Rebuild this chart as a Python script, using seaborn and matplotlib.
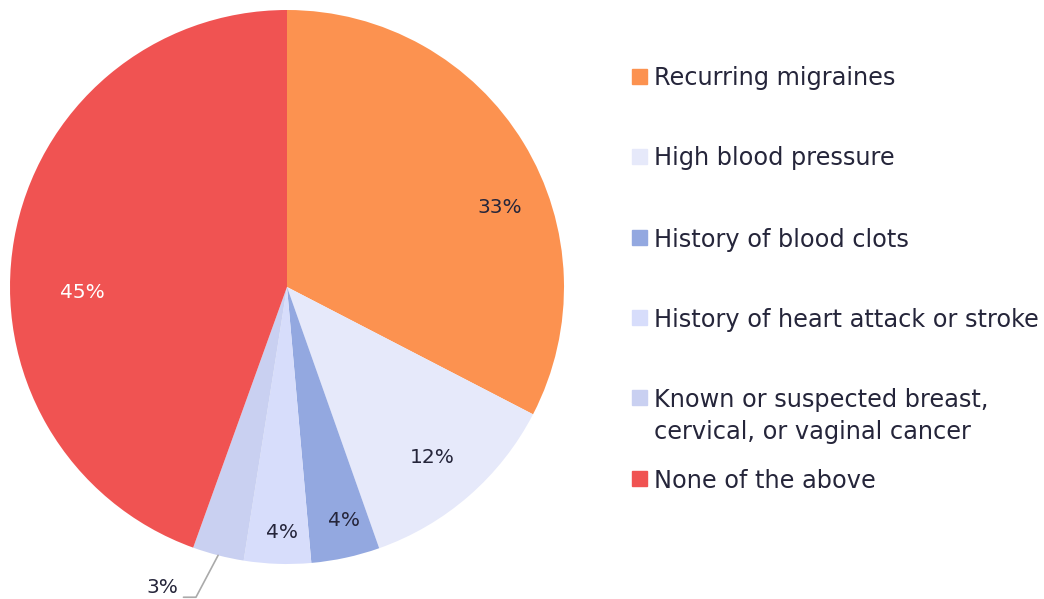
import numpy as np
import matplotlib
matplotlib.use("Agg")
import matplotlib.pyplot as plt
from matplotlib.patches import Rectangle
import seaborn as sns

# =========================================
# DADOS
# =========================================

categorias = [
    "Recurring migraines",
    "High blood pressure",
    "History of blood clots",
    "History of heart attack or stroke",
    "Known or suspected breast,\ncervical, or vaginal cancer",
    "None of the above",
]
valores = [32.6, 12.0, 4.0, 3.9, 3.0, 44.5]
rotulos = ["33%", "12%", "4%", "4%", "3%", "45%"]
cores = ["#FC9250", "#E6E9FA", "#93A8E0", "#D7DDFB", "#C9D0F1", "#F05352"]

# posição do rotulo: distancia (fração do raio) e fração do ângulo da fatia
dist_rotulos = [0.82, 0.81, 0.866, 0.885, None, 0.74]
frac_rotulos = [0.593, 0.516, 0.40, 0.44, 0.5, 0.428]
cor_rotulos = ["#25253a", "#25253a", "#25253a", "#25253a", "#25253a", "white"]

texto_cor = "#25253a"

sns.set_theme(style="white")
plt.rcParams["font.family"] = ["DejaVu Sans"]

fig = plt.figure(figsize=(10.44, 5.99), dpi=100)

# eixo da pizza: centro (287, 287) px, raio 277 px
W, H = 1044, 599
cx, cy, r = 287, 287, 277
ax = fig.add_axes([(cx - r) / W, (H - cy - r) / H, 2 * r / W, 2 * r / H])

wedges, _ = ax.pie(
    valores,
    colors=cores,
    startangle=90,
    counterclock=False,
    radius=1,
    wedgeprops=dict(linewidth=0),
)
ax.set_xlim(-1, 1)
ax.set_ylim(-1, 1)
ax.set_aspect("equal")
ax.axis("off")

# =========================================
# ROTULOS
# =========================================

for w, txt, d, f, c in zip(wedges, rotulos, dist_rotulos, frac_rotulos, cor_rotulos):
    # sentido horario: theta2 -> theta1
    ang = np.deg2rad(w.theta2 - f * (w.theta2 - w.theta1))
    if d is None:
        # rotulo com linha de chamada
        x0, y0 = np.cos(ang), np.sin(ang)
        x1, y1 = x0 - 0.08, -1.12
        ax.plot([x0, x1, x1 - 0.045], [y0, y1, y1], color="#aaaaaa",
                lw=1.2, clip_on=False)
        ax.text(x1 - 0.065, y1 + 0.035, txt, ha="right", va="center",
                fontsize=14.5, color=c, clip_on=False)
        continue
    ax.text(d * np.cos(ang), d * np.sin(ang), txt, ha="center", va="center",
            fontsize=14.5, color=c)

# =========================================
# LEGENDA
# =========================================

linhas_y = [76, 156, 237, 317, 397, 478]
entrelinha = 33
for cat, cor, ly in zip(categorias, cores, linhas_y):
    fig.patches.append(Rectangle((632 / W, (H - ly - 7.5) / H), 15 / W, 15 / H,
                                 transform=fig.transFigure, color=cor))
    for i, linha in enumerate(cat.split("\n")):
        fig.text(654 / W, (H - ly - i * entrelinha) / H, linha, ha="left",
                 va="center_baseline", fontsize=17.3, color=texto_cor)

fig.savefig("out.png", dpi=100)
